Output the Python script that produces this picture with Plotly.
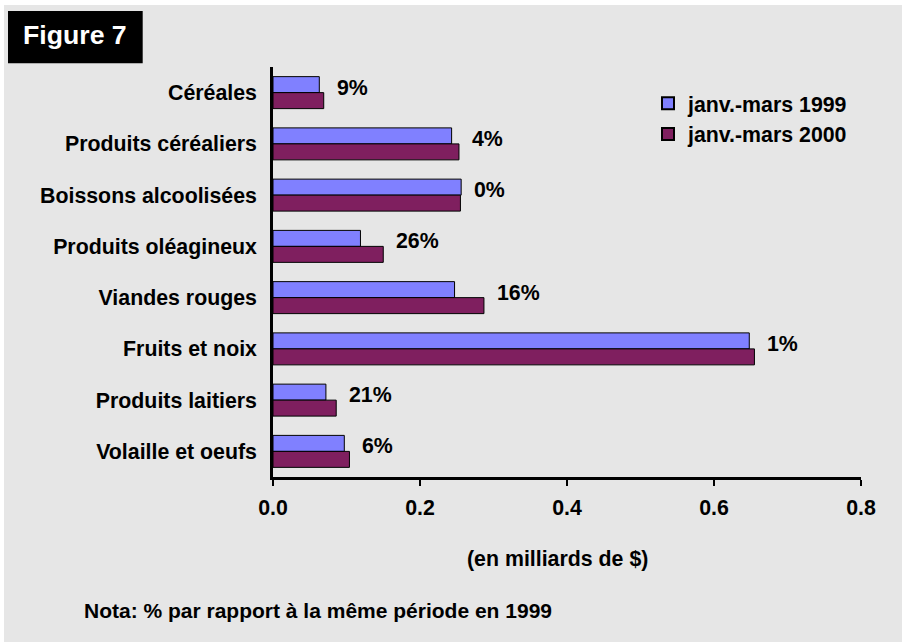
import plotly.graph_objects as go

categories = ["Céréales", "Produits céréaliers", "Boissons alcoolisées", "Produits oléagineux",
              "Viandes rouges", "Fruits et noix", "Produits laitiers", "Volaille et oeufs"]
values_1999 = [0.063, 0.243, 0.256, 0.119, 0.247, 0.648, 0.072, 0.097]
values_2000 = [0.069, 0.253, 0.255, 0.150, 0.287, 0.655, 0.086, 0.104]
pct_labels = ["9%", "4%", "0%", "26%", "16%", "1%", "21%", "6%"]
series_names = ["janv.-mars 1999", "janv.-mars 2000"]
x_ticks = [0.0, 0.2, 0.4, 0.6, 0.8]
x_tick_text = ["0.0", "0.2", "0.4", "0.6", "0.8"]

FONT = "Liberation Sans, Arial, sans-serif"
FS = 21.33
C1999 = "#8080ff"
C2000 = "#7f1f5f"
BG = "#e6e6e6"

W, H = 902, 642
L, R, T, B = 273, 41, 67, 165
PW, PH = W - L - R, H - T - B


def px(xpix):
    return (xpix - L) / PW


def py(ypix):
    return (H - B - ypix) / PH


def bold(size, color="#000000"):
    return dict(family=FONT, size=size, color=color, weight="bold")


fig = go.Figure()
fig.add_trace(go.Bar(y=categories, x=values_1999, orientation="h", name=series_names[0],
                     marker=dict(color=C1999, line=dict(color="#000000", width=1))))
fig.add_trace(go.Bar(y=categories, x=values_2000, orientation="h", name=series_names[1],
                     marker=dict(color=C2000, line=dict(color="#000000", width=1))))

annotations = []
for cat, a, b, lab in zip(categories, values_1999, values_2000, pct_labels):
    annotations.append(dict(x=max(a, b), y=cat, xref="x", yref="y", text=lab, showarrow=False,
                            xanchor="left", yanchor="middle", xshift=11, yshift=5,
                            font=bold(FS)))

annotations.append(dict(x=px(75), y=py(35), xref="paper", yref="paper", text="Figure 7",
                        showarrow=False, xanchor="center", yanchor="middle",
                        font=bold(26.67, "#ffffff")))
annotations.append(dict(x=px(557.5), y=py(559), xref="paper", yref="paper", text="(en milliards de $)",
                        showarrow=False, xanchor="center", yanchor="middle",
                        font=bold(FS)))
annotations.append(dict(x=px(82), y=py(610), xref="paper", yref="paper",
                        text="Nota: % par rapport à la même période en 1999",
                        showarrow=False, xanchor="left", yanchor="middle",
                        font=bold(21)))

shapes = [
    dict(type="rect", xref="paper", yref="paper", x0=px(4), x1=px(910), y0=py(650), y1=py(5),
         fillcolor=BG, line=dict(width=0), layer="below"),
    dict(type="rect", xref="paper", yref="paper", x0=px(8), x1=px(142.7), y0=py(63.3), y1=py(11),
         fillcolor="#000000", line=dict(width=0), layer="below"),
]

fig.update_layout(
    width=W, height=H,
    margin=dict(l=L, r=R, t=T, b=B, pad=0),
    paper_bgcolor="#ffffff",
    plot_bgcolor="rgba(0,0,0,0)",
    barmode="group",
    bargap=0.376,
    bargroupgap=0,
    font=bold(FS),
    showlegend=True,
    legend=dict(x=px(648), y=py(83), xanchor="left", yanchor="top",
                bgcolor="rgba(0,0,0,0)", borderwidth=0,
                font=bold(FS), tracegroupgap=0, itemsizing="constant"),
    annotations=annotations,
    shapes=shapes,
    xaxis=dict(range=[0, 0.8], tickvals=x_ticks, ticktext=x_tick_text, showgrid=False,
               zeroline=False, showline=True, linecolor="#000000", linewidth=2.5,
               ticks="outside", ticklen=6, tickwidth=2, tickcolor="#000000",
               ticklabelstandoff=4, tickfont=bold(FS), fixedrange=True),
    yaxis=dict(categoryorder="array", categoryarray=categories, autorange="reversed",
               showgrid=False, zeroline=False, showline=True, linecolor="#000000", linewidth=2.5,
               ticks="", ticklabelstandoff=9, tickfont=bold(FS), fixedrange=True),
)

fig.write_html(
    "out.html", config={"displayModeBar": False},
    post_script=("document.body.style.margin='0';document.body.style.overflow='hidden';"
                 "document.documentElement.style.background='#e6e6e6';"
                 "document.body.style.background='#e6e6e6';"))
